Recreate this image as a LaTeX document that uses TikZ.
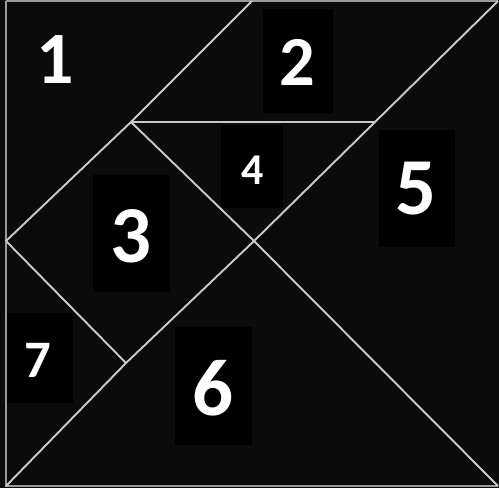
\documentclass[tikz,border=0pt]{standalone}
\usepackage{fontspec}
\usepackage{tikz}
\usepackage{xcolor}
\newfontfamily\piecefont{Carlito}
\definecolor{board}{HTML}{0B0B0B}
\definecolor{seam}{HTML}{C8C8C8}
\definecolor{rim}{HTML}{9A9A9A}

\begin{document}
\begin{tikzpicture}[x=0.02cm,y=-0.02cm]
    \useasboundingbox (0,0) rectangle (499,488);
    \fill[board] (0,0) rectangle (499,488);
    % corners and vertices of the pieces
    \coordinate (tl) at (6,1);
    \coordinate (tr) at (498,1);
    \coordinate (bl) at (6,486);
    \coordinate (br) at (498,486);
    \coordinate (tm) at (252,1);
    \coordinate (ul) at (131,122);
    \coordinate (ur) at (375,122);
    \coordinate (lm) at (6,241);
    \coordinate (cc) at (254,241);
    \coordinate (ll) at (126,363);
    % label boxes
    \fill[black] (263,9) rectangle (333,113);
    \fill[black] (221,125) rectangle (283,208);
    \fill[black] (379,130) rectangle (455,247);
    \fill[black] (93,175) rectangle (170,292);
    \fill[black] (6,313) rectangle (73,403);
    \fill[black] (175,327) rectangle (252,445);
    % outer frame
    \draw[rim,line width=1.6pt] (tl) -- (bl) -- (br);
    \draw[rim,line width=1.2pt] (tl) -- (tr);
    % seams between the pieces
    \draw[seam,line width=1.1pt] (tm) -- (ul) -- (lm);
    \draw[seam,line width=1.1pt] (ul) -- (ur);
    \draw[seam,line width=1.1pt] (tr) -- (ur) -- (cc) -- (ll) -- (bl);
    \draw[seam,line width=1.1pt] (ul) -- (cc) -- (br);
    \draw[seam,line width=1.1pt] (lm) -- (ll);
    % piece numbers
    \node[text=white,font=\piecefont\bfseries\fontsize{42}{42}\selectfont] (p1) at (55,60) {1};
    \node[text=white,font=\piecefont\bfseries\fontsize{40}{40}\selectfont] (p2) at (297,62) {2};
    \node[text=white,font=\piecefont\bfseries\fontsize{46}{46}\selectfont] (p3) at (131,236) {3};
    \node[text=white,font=\piecefont\bfseries\fontsize{25}{25}\selectfont] (p4) at (253,170) {4};
    \node[text=white,font=\piecefont\bfseries\fontsize{46}{46}\selectfont] (p5) at (416,189) {5};
    \node[text=white,font=\piecefont\bfseries\fontsize{46}{46}\selectfont] (p6) at (213,388) {6};
    \node[text=white,font=\piecefont\bfseries\fontsize{30}{30}\selectfont] (p7) at (38,360) {7};
  \end{tikzpicture}
\end{document}
